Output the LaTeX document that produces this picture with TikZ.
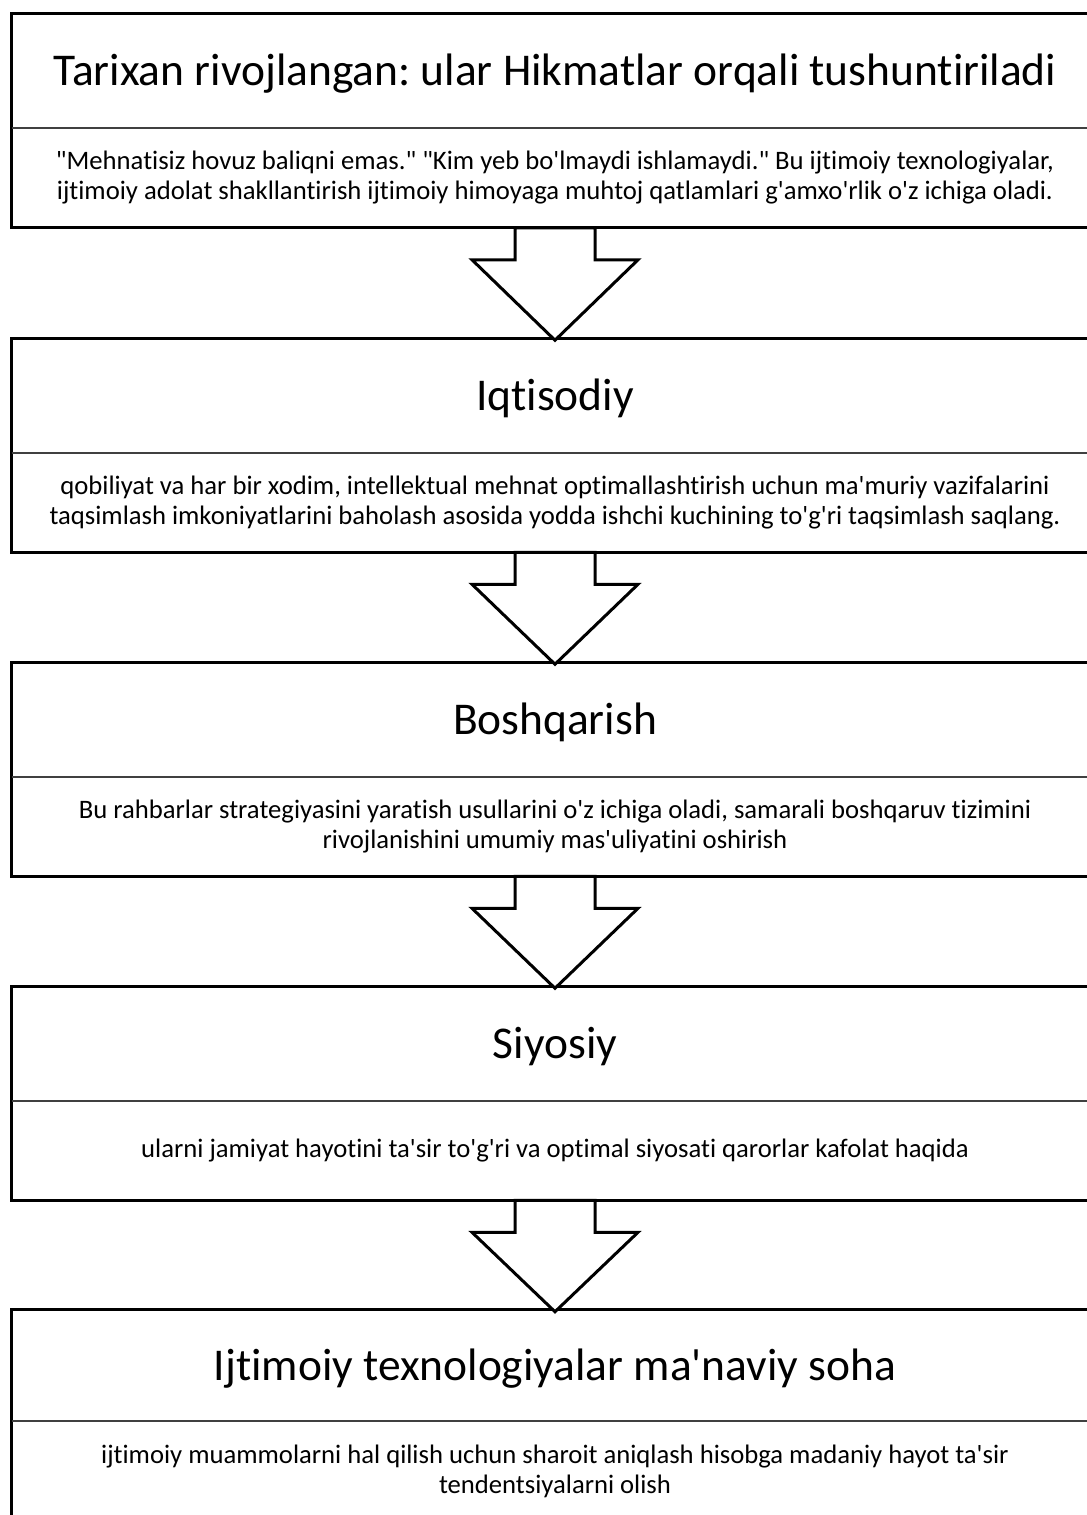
\documentclass[tikz,border=0pt]{standalone}
\usepackage{fontspec}
\setmainfont{Carlito}[Ligatures={TeXOff,CommonOff}]
\usetikzlibrary{calc}
\frenchspacing
\tikzset{
  hdr/.style={inner sep=0pt, minimum width=814.5pt, minimum height=85.5pt,
    text height=22pt, text depth=0pt,
    font=\fontsize{34.1}{41}\selectfont\frenchspacing, text=black},
  bdy/.style={inner sep=0pt, minimum width=814.5pt, minimum height=74.25pt,
    align=center, font=\fontsize{20}{22.5}\selectfont\frenchspacing, text=black},
  frame/.style={draw=black, line width=2.25pt},
  divider/.style={draw=black!75, line width=1.3pt},
  blockarrow/.style={draw=black, line width=2.25pt, fill=white, line join=miter},
}
\begin{document}
\begin{tikzpicture}[x=0.75pt,y=-0.75pt]
\useasboundingbox (0,0) rectangle (1087,1515);
\clip (0,0) rectangle (1087,1515);
\fill[white] (0,0) rectangle (1087,1515);

% box 1
\node[hdr] (h1) at (555,71) {Tarixan rivojlangan: ular Hikmatlar orqali tushuntiriladi};
\node[bdy, anchor=north] (b1) at (h1.south) {"Mehnatisiz hovuz baliqni emas." "Kim yeb bo'lmaydi ishlamaydi." Bu ijtimoiy texnologiyalar,\\ijtimoiy adolat shakllantirish ijtimoiy himoyaga muhtoj qatlamlari g'amxo'rlik o'z ichiga oladi.};
% box 2
\node[hdr] (h2) at (555,395.5) {Iqtisodiy};
\node[bdy, anchor=north] (b2) at (h2.south) {qobiliyat va har bir xodim, intellektual mehnat optimallashtirish uchun ma'muriy vazifalarini\\taqsimlash imkoniyatlarini baholash asosida yodda ishchi kuchining to'g'ri taqsimlash saqlang.};
% box 3
\node[hdr] (h3) at (555,719.5) {Boshqarish};
\node[bdy, anchor=north] (b3) at (h3.south) {Bu rahbarlar strategiyasini yaratish usullarini o'z ichiga oladi, samarali boshqaruv tizimini\\rivojlanishini umumiy mas'uliyatini oshirish};
% box 4
\node[hdr] (h4) at (555,1043.5) {Siyosiy};
\node[bdy, anchor=north] (b4) at (h4.south) {ularni jamiyat hayotini ta'sir to'g'ri va optimal siyosati qarorlar kafolat haqida};
% box 5
\node[hdr, minimum height=83.25pt] (h5) at (555,1365.5) {Ijtimoiy texnologiyalar ma'naviy soha};
\node[bdy, anchor=north] (b5) at (h5.south) {ijtimoiy muammolarni hal qilish uchun sharoit aniqlash hisobga madaniy hayot ta'sir\\tendentsiyalarni olish};

\foreach \i in {1,...,5}{
  \draw[frame] (h\i.north west) rectangle (b\i.south east);
  \draw[divider] (h\i.south west) -- (h\i.south east);
}

% block arrows
\foreach \a/\b in {1/2,2/3,3/4,4/5}{
  \draw[blockarrow] ($(b\a.south)+(-40,0)$) -- ++(0,32) -- ++(-43,0)
    -- ($(h\b.north)+(0,2)$) -- ($(b\a.south)+(83,32)$) -- ++(-43,0)
    -- ($(b\a.south)+(40,0)$) -- cycle;
}
\end{tikzpicture}
\end{document}
